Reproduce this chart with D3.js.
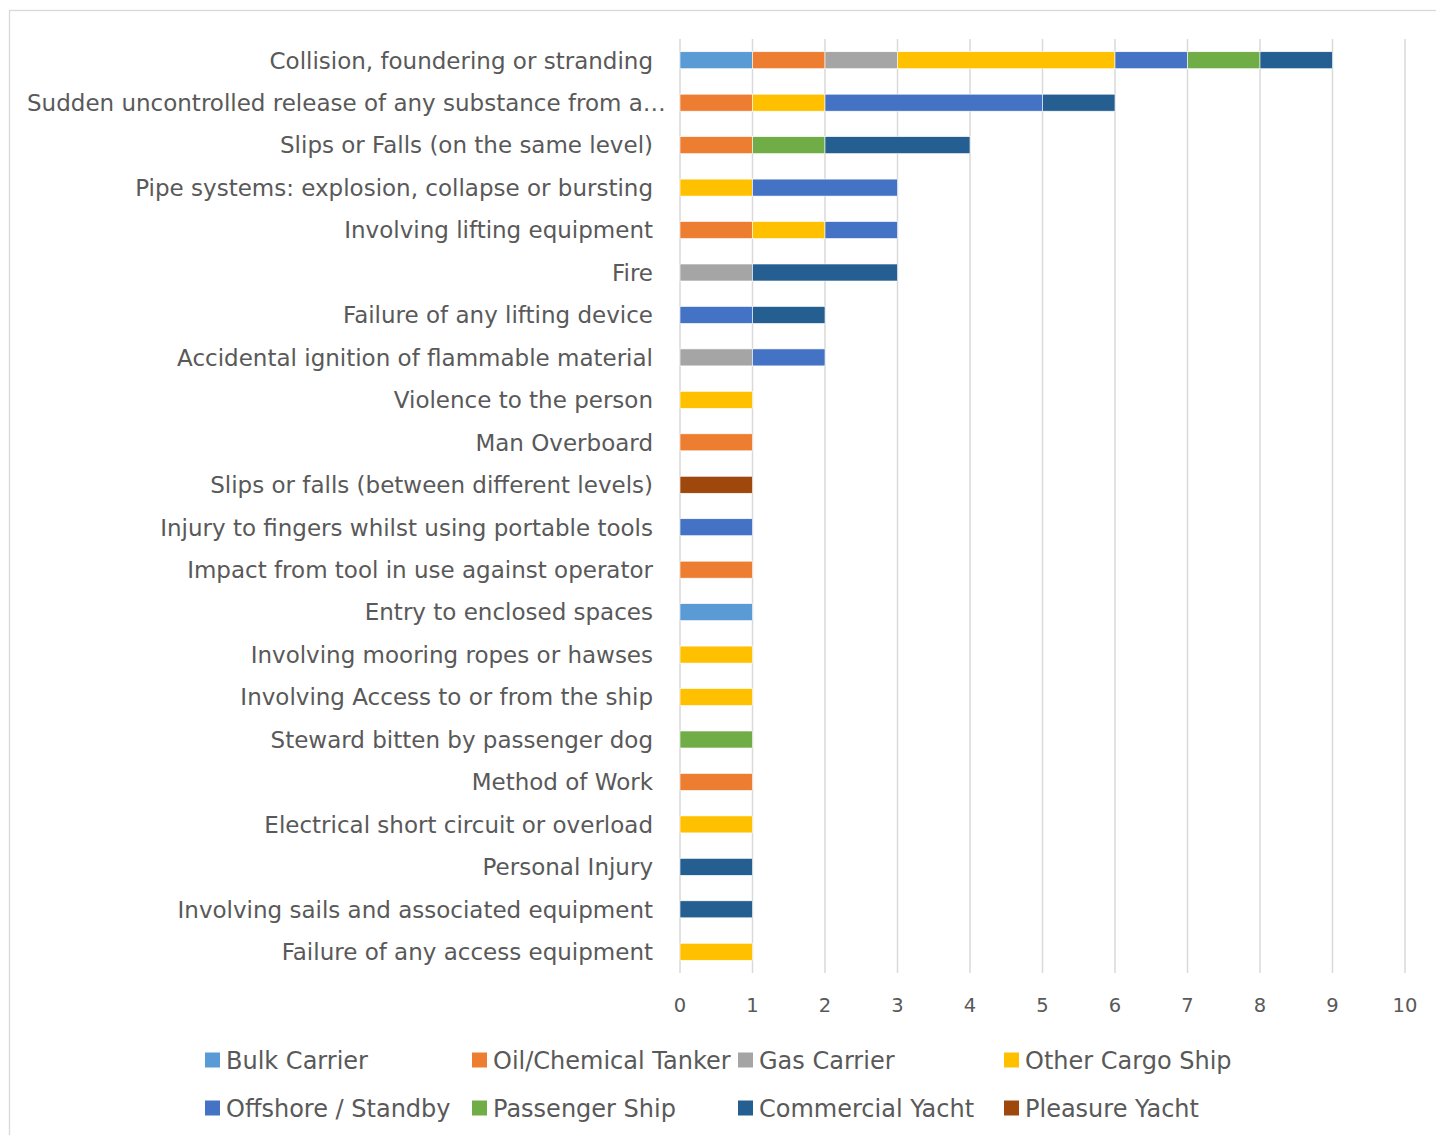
<!DOCTYPE html>
<html><head><meta charset="utf-8">
<script src="https://cdn.jsdelivr.net/npm/d3@7"></script>
<style>body{margin:0;background:#fff}svg{display:block}</style>
</head><body>
<script>
const categories = [
  "Collision, foundering or stranding",
  "Sudden uncontrolled release of any substance from a…",
  "Slips or Falls (on the same level)",
  "Pipe systems: explosion, collapse or bursting",
  "Involving lifting equipment",
  "Fire",
  "Failure of any lifting device",
  "Accidental ignition of flammable material",
  "Violence to the person",
  "Man Overboard",
  "Slips or falls (between different levels)",
  "Injury to fingers whilst using portable tools",
  "Impact from tool in use against operator",
  "Entry to enclosed spaces",
  "Involving mooring ropes or hawses",
  "Involving Access to or from the ship",
  "Steward bitten by passenger dog",
  "Method of Work",
  "Electrical short circuit or overload",
  "Personal Injury",
  "Involving sails and associated equipment",
  "Failure of any access equipment"
];
const seriesNames = ["Bulk Carrier","Oil/Chemical Tanker","Gas Carrier","Other Cargo Ship","Offshore / Standby","Passenger Ship","Commercial Yacht","Pleasure Yacht"];
const seriesColors = ["#5B9BD5","#ED7D31","#A5A5A5","#FFC000","#4472C4","#70AD47","#255E91","#9E480E"];
const bulkCarrier      = [1,0,0,0,0,0,0,0,0,0,0,0,0,1,0,0,0,0,0,0,0,0];
const oilTanker        = [1,1,1,0,1,0,0,0,0,1,0,0,1,0,0,0,0,1,0,0,0,0];
const gasCarrier       = [1,0,0,0,0,1,0,1,0,0,0,0,0,0,0,0,0,0,0,0,0,0];
const otherCargo       = [3,1,0,1,1,0,0,0,1,0,0,0,0,0,1,1,0,0,1,0,0,1];
const offshoreStandby  = [1,3,0,2,1,0,1,1,0,0,0,1,0,0,0,0,0,0,0,0,0,0];
const passengerShip    = [1,0,1,0,0,0,0,0,0,0,0,0,0,0,0,0,1,0,0,0,0,0];
const commercialYacht  = [1,1,2,0,0,2,1,0,0,0,0,0,0,0,0,0,0,0,0,1,1,0];
const pleasureYacht    = [0,0,0,0,0,0,0,0,0,0,1,0,0,0,0,0,0,0,0,0,0,0];
const seriesValues = [bulkCarrier,oilTanker,gasCarrier,otherCargo,offshoreStandby,passengerShip,commercialYacht,pleasureYacht];
const xTicks = [0,1,2,3,4,5,6,7,8,9,10];

const W = 1436, H = 1135;
const svg = d3.select("body").append("svg").attr("width", W).attr("height", H);
const font = "'DejaVu Sans',sans-serif";
const textColor = "#595959";

svg.append("rect").attr("x", 9.5).attr("y", 10.5).attr("width", W).attr("height", H)
  .attr("fill", "#fff").attr("stroke", "#d9d9d9").attr("stroke-width", 1.3);

const x = d3.scaleLinear().domain([0, 10]).range([680, 1405]);
const y = d3.scaleBand().domain(categories).range([39, 973]).paddingInner(0.6).paddingOuter(0.3);

svg.append("g").selectAll("line").data(xTicks).join("line")
  .attr("x1", d => x(d)).attr("x2", d => x(d))
  .attr("y1", 39).attr("y2", 973)
  .attr("stroke", "#d9d9d9").attr("stroke-width", 1.5);

const rows = categories.map((c, i) => {
  const o = {cat: c};
  seriesNames.forEach((s, j) => o[s] = seriesValues[j][i]);
  return o;
});
const stack = d3.stack().keys(seriesNames)(rows);

svg.append("g").selectAll("g").data(stack).join("g")
  .attr("fill", (d, i) => seriesColors[i])
  .selectAll("rect").data(d => d.filter(p => p[1] - p[0] > 0)).join("rect")
  .attr("x", d => x(d[0])).attr("width", d => x(d[1]) - x(d[0]))
  .attr("y", d => y(d.data.cat)).attr("height", y.bandwidth())
  .attr("stroke", "#fff").attr("stroke-width", 0.6);

const labels = svg.append("g").selectAll("text").data(categories).join("text")
  .attr("x", 653).attr("y", d => y(d) + y.bandwidth() / 2)
  .attr("dy", "0.36em").attr("text-anchor", "end")
  .attr("font-family", font).attr("font-size", 23).attr("fill", textColor)
  .text(d => d);
labels.each(function() {
  const b = this.getBBox();
  if (b.x < 27) d3.select(this).attr("text-anchor", "start").attr("x", 27);
});

svg.append("g").selectAll("text").data(xTicks).join("text")
  .attr("x", d => x(d)).attr("y", 1005).attr("dy", "0.36em")
  .attr("text-anchor", "middle")
  .attr("font-family", font).attr("font-size", 19.5).attr("fill", textColor)
  .text(d => d);

const legX = [205, 472, 738, 1004];
const legY = [1060, 1108];
const leg = svg.append("g").selectAll("g").data(seriesNames).join("g")
  .attr("transform", (d, i) => `translate(${legX[i % 4]},${legY[Math.floor(i / 4)]})`);
leg.append("rect").attr("x", 0).attr("y", -7.5).attr("width", 15).attr("height", 15)
  .attr("fill", (d, i) => seriesColors[i]);
leg.append("text").attr("x", 21).attr("y", 0).attr("dy", "0.36em")
  .attr("font-family", font).attr("font-size", 24).attr("fill", textColor)
  .text(d => d);
</script>
</body></html>
